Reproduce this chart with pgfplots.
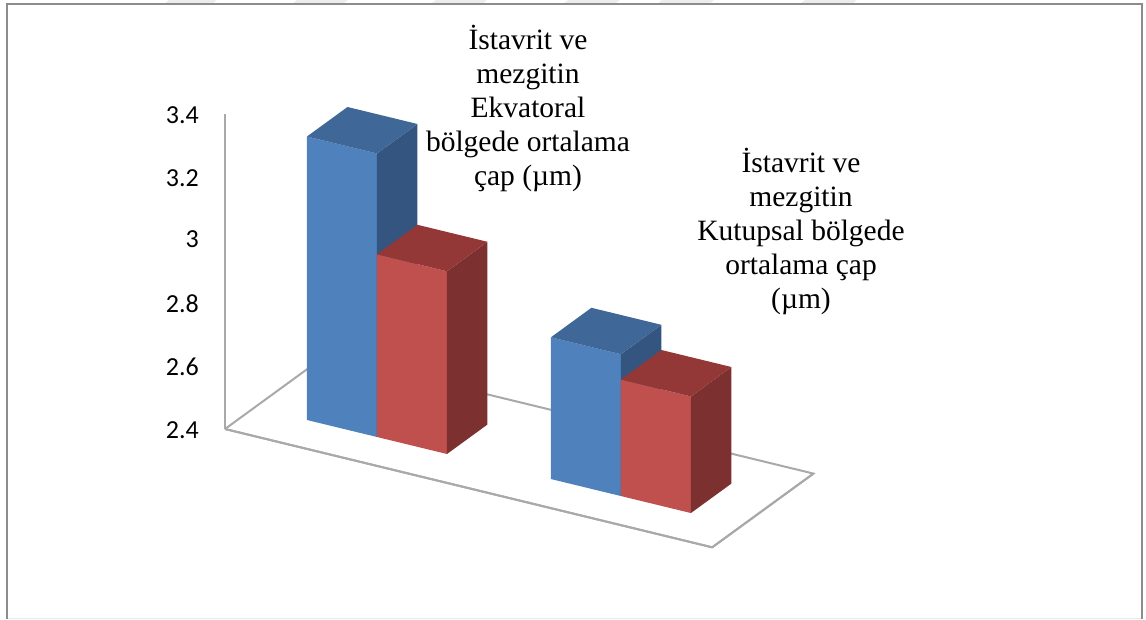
\documentclass[border=0pt]{standalone}
\usepackage{fontspec}
\setmainfont{Liberation Serif}
\newfontfamily\tickfont{Carlito}
\usepackage{pgfplots}
\pgfplotsset{compat=1.18}
\usetikzlibrary{calc}

\definecolor{blueFront}{HTML}{4F81BD}
\definecolor{blueTop}{HTML}{3F6797}
\definecolor{blueSide}{HTML}{34557F}
\definecolor{redFront}{HTML}{C0504D}
\definecolor{redTop}{HTML}{943837}
\definecolor{redSide}{HTML}{7C302F}
\definecolor{floorLine}{HTML}{A9A9A9}
\definecolor{frameLine}{HTML}{8C8C8C}
\definecolor{stripe}{HTML}{EDEDED}

% One block: x from #1 to #2, depth from #3 to #4, height #5, shades #6 #7 #8
\newcommand{\block}[8]{%
  \addplot3[fill=#6,draw=none] coordinates {(#1,#3,2.4)(#2,#3,2.4)(#2,#3,#5)(#1,#3,#5)} -- cycle;
  \addplot3[fill=#8,draw=none] coordinates {(#2,#3,2.4)(#2,#4,2.4)(#2,#4,#5)(#2,#3,#5)} -- cycle;
  \addplot3[fill=#7,draw=none] coordinates {(#1,#3,#5)(#2,#3,#5)(#2,#4,#5)(#1,#4,#5)} -- cycle;
}

\begin{document}
\begin{tikzpicture}[x=1pt,y=1pt]
\begin{axis}[
  x={(70pt,-17pt)},
  y={(40.5pt,29.5pt)},
  z={(0pt,315pt)},
  xmin=0,xmax=6.96,
  ymin=0,ymax=2.5,
  zmin=2.4,zmax=3.4,
  axis lines=left,
  axis line style={-,floorLine,line width=2pt},
  xtick=\empty,ytick=\empty,
  ztick={2.4,2.6,2.8,3,3.2,3.4},
  zticklabels={2.4,2.6,2.8,3,3.2,3.4},
  ticklabel style={font=\tickfont\fontsize{26}{30}\selectfont,text=black,xshift=-21pt,yshift=4pt},
  z tick style={draw=none},
  clip=false,
]
  \coordinate (O) at (axis cs:0,0,2.4);
  % remaining edges of the floor
  \addplot3[floorLine,line width=2pt] coordinates {(0,2.5,2.4)(6.96,2.5,2.4)(6.96,0,2.4)(0,0,2.4)};
  \addplot3[floorLine,line width=2pt] coordinates {(0,0,2.4)(0,2.5,2.4)};
  % first group
  \block{0.746}{1.746}{0.735}{1.735}{3.30}{blueFront}{blueTop}{blueSide}
  \block{1.746}{2.746}{0.735}{1.735}{2.98}{redFront}{redTop}{redSide}
  % second group
  \block{4.228}{5.228}{0.74}{1.74}{2.85}{blueFront}{blueTop}{blueSide}
  \block{5.228}{6.228}{0.74}{1.74}{2.77}{redFront}{redTop}{redSide}
\end{axis}
\begin{scope}[shift={(O)}]
  % page coordinates: (p-225, 429-q) is the point p across, q down
  \foreach \a/\b in {164/212,292/343,431/482,563/615,657/709,800/852}{
    \fill[stripe] (\a-225,429-4) -- (\b-225,429-4) -- (\b+5-225,429) -- (\a+5-225,429) -- cycle;
  }
  \draw[frameLine,line width=2pt] (7-225,429-619) -- (7-225,429-4) -- (1142-225,429-4) -- (1142-225,429-619);
  \draw[black!8,line width=1pt] (8-225,429-618) -- (1141-225,429-618);
  \node[align=center,font=\fontsize{29.5}{34}\selectfont,anchor=north] at (528-225,429-22)
    {İstavrit ve\\mezgitin\\Ekvatoral\\bölgede ortalama\\çap (µm)};
  \node[align=center,font=\fontsize{29.5}{34}\selectfont,anchor=north] at (801-225,429-145)
    {İstavrit ve\\mezgitin\\Kutupsal bölgede\\ortalama çap\\(µm)};
\end{scope}
\pgfresetboundingbox
\path[use as bounding box] ($(O)+(-225pt,-190pt)$) rectangle ($(O)+(921pt,429pt)$);
\end{tikzpicture}
\end{document}
